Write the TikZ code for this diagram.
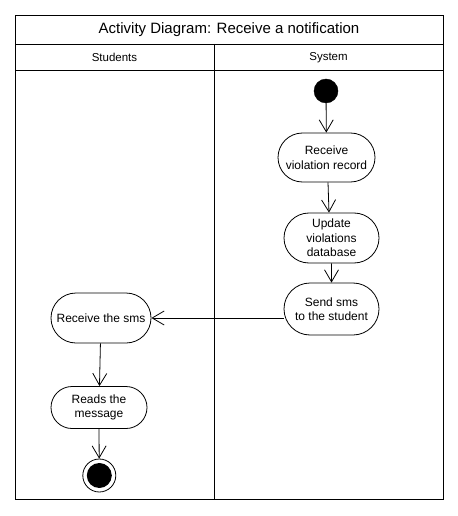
\documentclass[tikz,border=0pt]{standalone}
\usepackage{fontspec}
\setmainfont{Liberation Sans}
\usetikzlibrary{arrows.meta,shapes.misc}
\tikzset{
  act/.style={draw, rounded rectangle, line width=0.8bp, align=center, inner sep=2bp,
    font=\fontsize{12bp}{14.5bp}\selectfont},
  flow/.style={draw, line width=0.8bp, -{Straight Barb[length=12bp,width=14bp,line width=0.8bp]}},
  frame/.style={draw, line width=0.8bp},
  hdr/.style={font=\fontsize{11.5bp}{13bp}\selectfont},
}
\begin{document}
\begin{tikzpicture}[x=1bp,y=-1bp]
\useasboundingbox (0,0) rectangle (458,516);
% frame
\draw[frame] (15,15) rectangle (443,499);
\draw[frame] (15,44) -- (443,44);
\draw[frame] (15,70) -- (443,70);
\draw[frame] (214,44) -- (214,499);
\node[font=\fontsize{15bp}{17bp}\selectfont] (title) at (229,30) {Activity Diagram: Receive a notification};
\node[hdr] (lstud) at (114.5,57.5) {Students};
\node[hdr] (lsys) at (328.5,57.5) {System};
% nodes
\node[circle, fill=black, draw, minimum size=24bp, inner sep=0pt] (start) at (326,91) {};
\node[act, minimum width=101bp, minimum height=49bp] (recv) at (326.5,157.5) {Receive\\violation record};
\node[act, minimum width=99bp, minimum height=50bp] (upd) at (331.5,238) {Update\\violations\\database};
\node[act, minimum width=99bp, minimum height=52bp] (send) at (331.5,309) {Send sms\\to the student};
\node[act, minimum width=104bp, minimum height=50bp] (rsms) at (101,318) {Receive the sms};
\node[act, minimum width=100bp, minimum height=42bp] (read) at (99,407.5) {Reads the\\message};
\node[circle, draw, line width=0.8bp, minimum size=33bp, inner sep=0pt] (end) at (99.3,475.5) {};
\node[circle, fill=black, minimum size=25bp, inner sep=0pt] (endin) at (end.center) {};
% flows
\draw[flow] (start) -- (recv);
\draw[flow] ([xshift=1.5bp]recv.south) -- ([xshift=-2.5bp]upd.north);
\draw[flow] (upd) -- (send);
\draw[flow] (send.west |- rsms.east) -- (rsms.east);
\draw[flow] (rsms) -- (read);
\draw[flow] (read.south) -- (end);
\end{tikzpicture}
\end{document}
